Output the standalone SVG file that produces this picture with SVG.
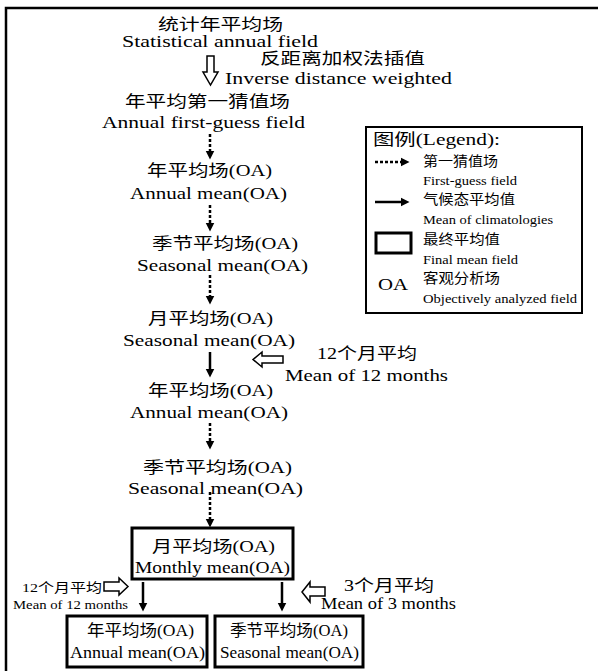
<svg xmlns="http://www.w3.org/2000/svg" width="598" height="671" viewBox="0 0 598 671">
<defs>
<marker id="ah" viewBox="0 0 10 10" refX="5" refY="5" markerWidth="9" markerHeight="10" markerUnits="userSpaceOnUse" orient="auto">
<path d="M0,0 L10,5 L0,10 z" fill="#000"/>
</marker>
<style>
text{font-family:"Liberation Serif","Noto Sans CJK SC",serif;fill:#000}
.t{font-size:17px}
.c{font-size:16px}
.s{font-size:13px}
.l{font-size:13.5px}
.dot{stroke:#000;stroke-width:2.5;stroke-dasharray:3 2;fill:none}
.sol{stroke:#000;stroke-width:2.5;fill:none}
.box{fill:#fff;stroke:#000;stroke-width:3}
.hollow{fill:#fff;stroke:#000;stroke-width:1.5}
</style>
</defs>
<rect width="598" height="671" fill="#fff"/>
<path d="M6,671 V8 H598" fill="none" stroke="#000" stroke-width="2.5"/>

<g id="n-stat">
<text class="c" x="158" y="30" textLength="125" lengthAdjust="spacingAndGlyphs">统计年平均场</text>
<text class="t" x="122" y="47" textLength="196" lengthAdjust="spacingAndGlyphs">Statistical annual field</text>
</g>
<g id="n-idw">
<text class="c" x="260" y="64" textLength="165" lengthAdjust="spacingAndGlyphs">反距离加权法插值</text>
<text class="t" x="225" y="84" textLength="227" lengthAdjust="spacingAndGlyphs">Inverse distance weighted</text>
</g>
<g id="n-guess">
<text class="c" x="125" y="107" textLength="165" lengthAdjust="spacingAndGlyphs">年平均第一猜值场</text>
<text class="t" x="102" y="128" textLength="203" lengthAdjust="spacingAndGlyphs">Annual first-guess field</text>
</g>
<g id="n-annual1">
<text class="c" x="147" y="176" textLength="125" lengthAdjust="spacingAndGlyphs">年平均场(OA)</text>
<text class="t" x="130" y="199" textLength="157" lengthAdjust="spacingAndGlyphs">Annual mean(OA)</text>
</g>
<g id="n-season1">
<text class="c" x="152" y="249" textLength="146" lengthAdjust="spacingAndGlyphs">季节平均场(OA)</text>
<text class="t" x="137" y="271" textLength="171" lengthAdjust="spacingAndGlyphs">Seasonal mean(OA)</text>
</g>
<g id="n-month1">
<text class="c" x="148" y="324" textLength="125" lengthAdjust="spacingAndGlyphs">月平均场(OA)</text>
<text class="t" x="123" y="346" textLength="172" lengthAdjust="spacingAndGlyphs">Seasonal mean(OA)</text>
</g>
<g id="n-mean12a">
<text class="c" x="317" y="359" textLength="100" lengthAdjust="spacingAndGlyphs">12个月平均</text>
<text class="t" x="285" y="381" textLength="163" lengthAdjust="spacingAndGlyphs">Mean of 12 months</text>
</g>
<g id="n-annual2">
<text class="c" x="148" y="396" textLength="125" lengthAdjust="spacingAndGlyphs">年平均场(OA)</text>
<text class="t" x="130" y="418" textLength="158" lengthAdjust="spacingAndGlyphs">Annual mean(OA)</text>
</g>
<g id="n-season2">
<text class="c" x="143" y="473" textLength="149" lengthAdjust="spacingAndGlyphs">季节平均场(OA)</text>
<text class="t" x="128" y="494" textLength="175" lengthAdjust="spacingAndGlyphs">Seasonal mean(OA)</text>
</g>
<g id="n-monthly">
<rect class="box" x="132" y="528" width="161" height="51"/>
<text class="c" x="152" y="552" textLength="123" lengthAdjust="spacingAndGlyphs">月平均场(OA)</text>
<text class="t" x="135" y="573" textLength="155" lengthAdjust="spacingAndGlyphs">Monthly mean(OA)</text>
</g>
<g id="n-mean12b">
<text class="s" x="22" y="592" textLength="80" lengthAdjust="spacingAndGlyphs">12个月平均</text>
<text class="s" x="13" y="609" textLength="115" lengthAdjust="spacingAndGlyphs">Mean of 12 months</text>
</g>
<g id="n-mean3">
<text class="c" x="344" y="591" textLength="90" lengthAdjust="spacingAndGlyphs">3个月平均</text>
<text class="t" x="321" y="609" textLength="135" lengthAdjust="spacingAndGlyphs">Mean of 3 months</text>
</g>
<g id="n-annual-final">
<rect class="box" x="67" y="616" width="140" height="51"/>
<text class="c" x="87" y="636" textLength="107" lengthAdjust="spacingAndGlyphs">年平均场(OA)</text>
<text class="t" x="70" y="658" textLength="135" lengthAdjust="spacingAndGlyphs">Annual mean(OA)</text>
</g>
<g id="n-season-final">
<rect class="box" x="215" y="616" width="148" height="51"/>
<text class="c" x="230" y="636" textLength="118" lengthAdjust="spacingAndGlyphs">季节平均场(OA)</text>
<text class="t" x="220" y="658" textLength="139" lengthAdjust="spacingAndGlyphs">Seasonal mean(OA)</text>
</g>

<g id="legend">
<rect x="366" y="127" width="216" height="186" fill="#fff" stroke="#000" stroke-width="2"/>
<text class="c" x="373" y="145" textLength="127" lengthAdjust="spacingAndGlyphs">图例(Legend):</text>
<line class="dot" x1="375" y1="162" x2="405" y2="162" marker-end="url(#ah)"/>
<text class="l" x="423" y="166" textLength="75" lengthAdjust="spacingAndGlyphs">第一猜值场</text>
<text class="l" x="423" y="185" textLength="94" lengthAdjust="spacingAndGlyphs">First-guess field</text>
<line class="sol" x1="375" y1="202" x2="405" y2="202" marker-end="url(#ah)"/>
<text class="l" x="423" y="204" textLength="92" lengthAdjust="spacingAndGlyphs">气候态平均值</text>
<text class="l" x="423" y="224" textLength="130" lengthAdjust="spacingAndGlyphs">Mean of climatologies</text>
<rect x="376" y="233" width="35" height="20" fill="#fff" stroke="#000" stroke-width="3"/>
<text class="l" x="423" y="244" textLength="77" lengthAdjust="spacingAndGlyphs">最终平均值</text>
<text class="l" x="423" y="264" textLength="95" lengthAdjust="spacingAndGlyphs">Final mean field</text>
<text class="t" x="378" y="290" textLength="30" lengthAdjust="spacingAndGlyphs">OA</text>
<text class="l" x="423" y="283" textLength="77" lengthAdjust="spacingAndGlyphs">客观分析场</text>
<text class="l" x="423" y="303" textLength="154" lengthAdjust="spacingAndGlyphs">Objectively analyzed field</text>
</g>

<g id="connectors">
<polygon class="hollow" points="207,56 214,56 214,72 218,72 210.5,85 203,72 207,72"/>
<line class="dot" x1="210" y1="134" x2="210" y2="155" marker-end="url(#ah)"/>
<line class="dot" x1="210" y1="205" x2="210" y2="227" marker-end="url(#ah)"/>
<line class="dot" x1="210" y1="275" x2="210" y2="300" marker-end="url(#ah)"/>
<line class="sol" x1="210" y1="352" x2="210" y2="373" marker-end="url(#ah)"/>
<polygon class="hollow" points="253,359.5 262,352 262,356 283,356 283,363 262,363 262,367"/>
<line class="dot" x1="210" y1="423" x2="210" y2="445" marker-end="url(#ah)"/>
<line class="dot" x1="210" y1="492" x2="210" y2="523" marker-end="url(#ah)"/>
<line class="sol" x1="143" y1="582" x2="143" y2="607" marker-end="url(#ah)"/>
<line class="sol" x1="282" y1="582" x2="282" y2="607" marker-end="url(#ah)"/>
<polygon class="hollow" points="128,586.5 119,578 119,582 104,582 104,591 119,591 119,595"/>
<polygon class="hollow" points="302,592 310,582 310,587 325,587 325,596 310,596 310,602"/>
</g>
</svg>
